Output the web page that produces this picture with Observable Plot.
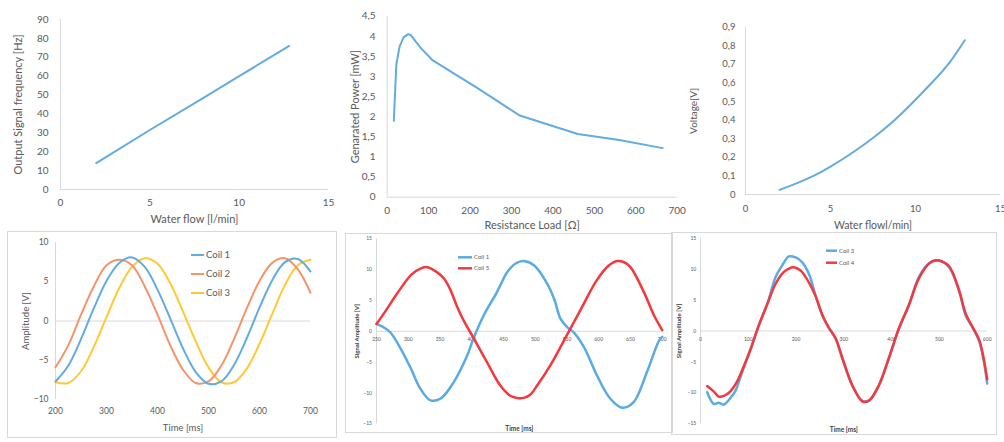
<!DOCTYPE html>
<html><head><meta charset="utf-8">
<script src="https://cdn.jsdelivr.net/npm/d3@7"></script>
<script src="https://cdn.jsdelivr.net/npm/@observablehq/plot@0.6"></script>
<style>
html,body{margin:0;padding:0;background:#fff;}
#root{position:relative;width:1004px;height:442px;overflow:hidden;}
</style></head><body><div id="root"></div>
<script>
// ---------- DATA ----------
// Panel 1: output signal frequency vs water flow
const p1Flow = [2, 5, 8, 10, 12.8];
const p1Freq = [14, 31.5, 48.5, 60, 76];
const p1XTicks = [0, 5, 10, 15];
const p1YTicks = [0, 10, 20, 30, 40, 50, 60, 70, 80, 90];

// Panel 2: generated power vs resistance load
const p2Load = [16, 22, 30, 40, 50, 56, 68, 82, 110, 220, 320, 460, 560, 665];
const p2Power = [1.9, 3.3, 3.75, 3.98, 4.05, 4.04, 3.88, 3.7, 3.4, 2.7, 2.03, 1.57, 1.42, 1.22];
const p2XTicks = [0, 100, 200, 300, 400, 500, 600, 700];
const p2YTicks = [0, 0.5, 1, 1.5, 2, 2.5, 3, 3.5, 4, 4.5];

// Panel 3: voltage vs water flow
const p3Flow = [2, 3, 4, 5, 6, 7, 8, 9, 10, 11, 12, 12.9];
const p3Volt = [0.025, 0.06, 0.1, 0.15, 0.207, 0.27, 0.34, 0.42, 0.51, 0.605, 0.71, 0.83];
const p3XTicks = [0, 5, 10, 15];
const p3YTicks = [0, 0.1, 0.2, 0.3, 0.4, 0.5, 0.6, 0.7, 0.8, 0.9];

// Panel 4: three coils
const p4Time = [200,225,250,275,300,325,350,375,400,425,450,475,500,525,550,575,600,625,650,675,700];
const p4Coil1 = [-7.7,-5.7,-2.3,1.6,5.1,7.4,8.1,6.9,4.0,0.3,-3.5,-6.5,-8.0,-7.7,-5.6,-2.2,1.7,5.2,7.5,7.9,6.3];
const p4Coil2 = [-5.9,-3.1,0.8,4.4,7.1,7.8,7.1,4.4,0.8,-3.1,-6.2,-7.9,-7.7,-5.7,-2.3,1.6,5.1,7.4,8.0,6.6,3.6];
const p4Coil3 = [-7.8,-7.9,-6.4,-3.3,0.5,4.2,6.9,8.0,7.3,4.8,1.2,-2.6,-5.9,-7.8,-7.8,-6.1,-2.9,0.9,4.6,7.1,7.8];
const p4XTicks = [200, 300, 400, 500, 600, 700];
const p4YTicks = [-10, -5, 0, 5, 10];

// Panel 5: Coil 1 vs Coil 5
const p5TimeA = [250,262,272,288,304,319,335,351,372,393,403,419,440,456,469,482,498,519,530,540,551,561,577,597,618,637,655,676,695,700];
const p5CoilA = [1.2,0.6,-0.2,-2.8,-6.0,-9.3,-11.2,-10.9,-8.2,-3.9,-1.1,2.6,6.4,9.6,11.0,11.4,10.7,7.7,5.2,2.0,0.6,-0.2,-2.6,-7.1,-10.9,-12.4,-11.5,-6.6,-1.5,-0.9];
const p5TimeB = [250,265,283,305,320,330,345,356,366,377,388,403,424,445,460,471,482,492,503,524,553,571,597,615,629,640,650,671,687,700];
const p5CoilB = [1.2,3.4,6.2,9.2,10.2,10.4,9.6,8.6,6.8,4.0,1.6,-1.1,-5.0,-8.8,-10.4,-10.8,-10.8,-10.3,-8.8,-5.5,0.0,3.4,8.3,10.6,11.4,11.2,10.4,6.4,2.6,0.2];
const p5XTicks = [250, 300, 350, 400, 450, 500, 550, 600, 650, 700];
const p5YTicks = [-15, -10, -5, 0, 5, 10, 15];

// Panel 6: Coil 3 vs Coil 4
const p6TimeA = [14,28,38,49,63,73,87,105,122,140,157,171,185,199,213,227,241,255,268,283,297,318,339,353,373,394,415,436,457,478,499,520,541,555,569,583,592,600];
const p6CoilA = [-9.9,-11.8,-11.6,-11.9,-10.8,-9.7,-6.7,-2.9,0.9,4.4,8.7,10.6,12.05,11.9,11.1,9.2,5.7,2.5,0.6,-1.3,-4.5,-8.9,-11.3,-11.3,-8.9,-4.5,0.3,4.1,8.7,10.9,11.4,10.3,6.5,2.5,0.6,-1.6,-4.5,-8.5];
const p6TimeB = [14,28,38,49,63,77,91,105,122,140,157,174,185,195,205,213,230,241,255,268,283,297,318,339,353,373,394,415,436,457,478,490,499,520,541,555,569,583,592,600];
const p6CoilB = [-8.9,-9.8,-10.6,-10.5,-9.7,-8.1,-5.6,-2.9,0.9,4.4,7.6,9.5,10.1,10.3,10.0,9.5,7.4,5.6,2.6,0.6,-1.2,-4.4,-8.8,-11.4,-11.2,-8.8,-4.4,0.4,4.2,8.5,10.9,11.4,11.4,10.5,6.6,2.8,0.7,-1.4,-4.2,-7.8];
const p6XTicks = [0, 100, 200, 300, 400, 500, 600];
const p6YTicks = [-15, -10, -5, 0, 5, 10, 15];

// ---------- STYLE ----------
const FONT = "Lato, 'Open Sans', sans-serif";
const TXT = "#595959";
const AX = "#d9d9d9";
const BLUE = "#62acdf";
const ORANGE = "#f5946a";
const YELLOW = "#ffc933";
const BLUE2 = "#5aaae4";
const RED = "#f4383e";
const comma = d => String(d).replace(".", ",");
const rows = (xs, ys, s) => xs.map((x, i) => ({x, y: ys[i], s}));
const xTitle = (t, dy, fontSize, extra = {}) =>
  Plot.text([t], {text: d => d, frameAnchor: "bottom", dy, fontSize, fill: TXT, textAnchor: "middle", lineAnchor: "middle", ...extra});
const yTitle = (t, dx, fontSize, extra = {}) =>
  Plot.text([t], {text: d => d, frameAnchor: "left", dx, rotate: -90, fontSize, fill: TXT, textAnchor: "middle", lineAnchor: "middle", ...extra});

function legendMark(items, {x, y, gap, len, fontSize, strokeWidth}) {
  return () => {
    const g = d3.create("svg:g");
    items.forEach((it, i) => {
      const yy = y + i * gap;
      g.append("line").attr("x1", x).attr("x2", x + len).attr("y1", yy).attr("y2", yy)
        .attr("stroke", it.color).attr("stroke-width", strokeWidth);
      g.append("text").attr("x", x + len + 2).attr("y", yy).attr("dy", "0.35em")
        .attr("text-anchor", "start")
        .attr("font-size", fontSize).attr("fill", TXT).attr("font-family", FONT).text(it.label);
    });
    return g.node();
  };
}

const root = document.getElementById("root");
function place(svg, left, top, framed) {
  svg.style.position = "absolute";
  svg.style.left = left + "px";
  svg.style.top = top + "px";
  svg.style.overflow = "visible";
  if (framed) { svg.style.outline = "1px solid " + AX; svg.style.outlineOffset = "-1px"; }
  root.appendChild(svg);
}
const baseStyle = {background: "transparent", color: TXT, fontFamily: FONT};

// ---------- PANEL 1 ----------
place(Plot.plot({
  width: 340, height: 230, marginLeft: 60, marginRight: 12, marginTop: 19, marginBottom: 41,
  style: baseStyle,
  x: {domain: [0, 15]}, y: {domain: [0, 90]},
  marks: [
    Plot.ruleY([0], {stroke: AX}),
    Plot.ruleX([0], {stroke: AX}),
    Plot.axisX(p1XTicks, {tickSize: 0, tickPadding: 9, fontSize: 10, label: null}),
    Plot.axisY(p1YTicks, {tickSize: 0, tickPadding: 12, fontSize: 10, label: null}),
    Plot.line(rows(p1Flow, p1Freq), {x: "x", y: "y", stroke: BLUE, strokeWidth: 2}),
    xTitle("Water flow [l/min]", 30, 11),
    yTitle("Output Signal frequency [Hz]", -42, 11)
  ]
}), 0, 0, false);

// ---------- PANEL 2 ----------
place(Plot.plot({
  width: 345, height: 232, marginLeft: 46.7, marginRight: 8.3, marginTop: 15.7, marginBottom: 35.3,
  style: baseStyle,
  x: {domain: [0, 700]}, y: {domain: [0, 4.5]},
  marks: [
    Plot.ruleY([0], {stroke: AX}),
    Plot.ruleX([0], {stroke: AX}),
    Plot.axisX(p2XTicks, {tickSize: 0, tickPadding: 10, fontSize: 10, label: null}),
    Plot.axisY(p2YTicks, {tickSize: 0, tickPadding: 11.7, fontSize: 10, label: null, tickFormat: comma}),
    Plot.line(rows(p2Load, p2Power), {x: "x", y: "y", stroke: BLUE, strokeWidth: 2}),
    xTitle("Resistance Load [Ω]", 28.3, 11),
    yTitle("Genarated Power [mW]", -31.7, 11)
  ]
}), 340, 0, false);

// ---------- PANEL 3 ----------
place(Plot.plot({
  width: 319, height: 232, marginLeft: 60, marginRight: 4, marginTop: 26.7, marginBottom: 38,
  style: baseStyle,
  x: {domain: [0, 15]}, y: {domain: [0, 0.9]},
  marks: [
    Plot.ruleY([0], {stroke: AX}),
    Plot.ruleX([0], {stroke: AX}),
    Plot.axisX(p3XTicks, {tickSize: 0, tickPadding: 11, fontSize: 9.5, label: null}),
    Plot.axisY(p3YTicks, {tickSize: 0, tickPadding: 10, fontSize: 9.5, label: null, tickFormat: comma}),
    Plot.line(rows(p3Flow, p3Volt), {x: "x", y: "y", stroke: BLUE, strokeWidth: 2, curve: "natural"}),
    xTitle("Water flowl/min]", 31, 10.5),
    yTitle("Voltage[V]", -52, 10)
  ]
}), 685, 0, false);

// ---------- PANEL 4 ----------
place(Plot.plot({
  width: 330, height: 207, marginLeft: 48, marginRight: 27, marginTop: 11, marginBottom: 39,
  style: baseStyle,
  x: {domain: [200, 700]}, y: {domain: [-10, 10]},
  marks: [
    Plot.ruleY([0], {stroke: AX}),
    Plot.ruleX([200], {stroke: AX}),
    Plot.axisX(p4XTicks, {tickSize: 0, tickPadding: 8.5, fontSize: 8.5, label: null}),
    Plot.axisY(p4YTicks, {tickSize: 0, tickPadding: 7, fontSize: 8.5, label: null}),
    Plot.line(rows(p4Time, p4Coil3), {x: "x", y: "y", stroke: YELLOW, strokeWidth: 2, curve: "catmull-rom"}),
    Plot.line(rows(p4Time, p4Coil2), {x: "x", y: "y", stroke: ORANGE, strokeWidth: 2, curve: "catmull-rom"}),
    Plot.line(rows(p4Time, p4Coil1), {x: "x", y: "y", stroke: BLUE, strokeWidth: 2, curve: "catmull-rom"}),
    xTitle("Time [ms]", 28.7, 9.5),
    yTitle("Amplitude [V]", -30, 9.5),
    legendMark([{label: "Coil 1", color: BLUE}, {label: "Coil 2", color: ORANGE}, {label: "Coil 3", color: YELLOW}],
      {x: 184, y: 24, gap: 19, len: 13, fontSize: 9.5, strokeWidth: 2})
  ]
}), 7, 231, true);

// ---------- PANEL 5 ----------
place(Plot.plot({
  width: 328, height: 200, marginLeft: 31, marginRight: 11.3, marginTop: 5.3, marginBottom: 9.7,
  style: baseStyle,
  x: {domain: [250, 700], axis: null}, y: {domain: [-15, 15]},
  marks: [
    Plot.ruleY([0], {stroke: AX}),
    Plot.ruleX([250], {stroke: AX}),
    Plot.text(p5XTicks, {x: d => d, y: 0, text: d => String(d), dy: 8, fontSize: 5, fill: TXT}),
    Plot.axisY(p5YTicks, {tickSize: 0, tickPadding: 4.5, fontSize: 5, label: null}),
    Plot.line(rows(p5TimeA, p5CoilA), {x: "x", y: "y", stroke: BLUE2, strokeWidth: 2.5, curve: "catmull-rom"}),
    Plot.line(rows(p5TimeB, p5CoilB), {x: "x", y: "y", stroke: RED, strokeWidth: 2.5, curve: "catmull-rom"}),
    xTitle("Time [ms]", 5, 6.5, {fontWeight: "bold", fill: "#404040"}),
    yTitle("Signal Amplitude [V]", -19.3, 6, {fontWeight: "bold", fill: "#404040"}),
    legendMark([{label: "Coil 1", color: BLUE2}, {label: "Coil 5", color: RED}],
      {x: 113, y: 24.3, gap: 11, len: 14, fontSize: 6, strokeWidth: 2.5})
  ]
}), 345, 233, true);

// ---------- PANEL 6 ----------
place(Plot.plot({
  width: 326, height: 203, marginLeft: 29, marginRight: 10.3, marginTop: 5.7, marginBottom: 11.7,
  style: baseStyle,
  x: {domain: [0, 600], axis: null}, y: {domain: [-15, 15]},
  marks: [
    Plot.ruleY([0], {stroke: AX}),
    Plot.ruleX([0], {stroke: AX}),
    Plot.text(p6XTicks, {x: d => d, y: 0, text: d => String(d), dy: 8.5, fontSize: 5, fill: TXT}),
    Plot.axisY(p6YTicks, {tickSize: 0, tickPadding: 4.3, fontSize: 5, label: null}),
    Plot.line(rows(p6TimeA, p6CoilA), {x: "x", y: "y", stroke: BLUE2, strokeWidth: 2.5, curve: "catmull-rom"}),
    Plot.line(rows(p6TimeB, p6CoilB), {x: "x", y: "y", stroke: RED, strokeWidth: 2.5, curve: "catmull-rom"}),
    xTitle("Time [ms]", 5.7, 6.5, {fontWeight: "bold", fill: "#404040"}),
    yTitle("Signal Amplitude [V]", -21.7, 6, {fontWeight: "bold", fill: "#404040"}),
    legendMark([{label: "Coil 3", color: BLUE2}, {label: "Coil 4", color: RED}],
      {x: 155, y: 18.7, gap: 12, len: 11, fontSize: 6, strokeWidth: 2.5})
  ]
}), 671, 232, true);
</script>
</body></html>
